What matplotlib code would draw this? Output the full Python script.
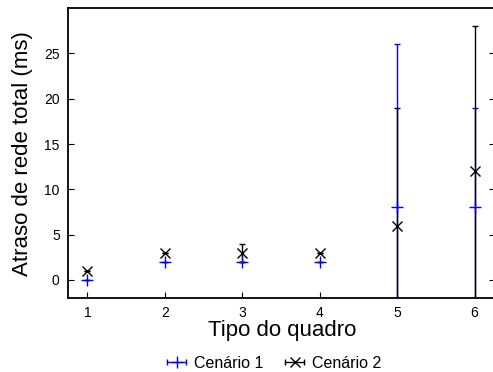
import matplotlib
matplotlib.use("Agg")
import matplotlib.pyplot as plt
from matplotlib.lines import Line2D
from matplotlib.legend_handler import HandlerLine2D

plt.rcParams['font.family'] = ['Liberation Sans', 'DejaVu Sans']

tipos = [1, 2, 3, 4, 5, 6]
cen1 = [0, 2, 2, 2, 8, 8]
cen1_err = [0, 0, 0, 0, 18, 11]
cen2 = [1, 3, 3, 3, 6, 12]
cen2_err = [0, 0, 1, 0, 13, 16]

fig = plt.figure(figsize=(4.93, 3.72), dpi=100)
ax = fig.add_axes([0.138, 0.199, 0.867, 0.779])

ax.errorbar(tipos, cen1, yerr=cen1_err, fmt='+', color='#0000ff', ms=8, mew=1,
            elinewidth=1, capsize=2, capthick=1)
ax.errorbar(tipos, cen2, yerr=cen2_err, fmt='x', color='black', ms=6.5, mew=1,
            elinewidth=1, capsize=2, capthick=1)

ax.set_xlim(0.75, 6.27)
ax.set_ylim(-2, 30)
ax.set_xticks(tipos)
ax.set_yticks([0, 5, 10, 15, 20, 25])
ax.tick_params(direction='in', top=False, right=True, length=4, labelsize=10, pad=6)
for s in ax.spines.values():
    s.set_linewidth(1.3)

ax.set_xlabel('Tipo do quadro', fontsize=16, labelpad=0)
ax.set_ylabel('Atraso de rede total (ms)', fontsize=16, labelpad=8)

# legend symbols: horizontal bar with caps plus the point marker
cap1 = Line2D([], [], color='#0000ff', marker='|', ms=5, lw=1)
pt1 = Line2D([], [], color='#0000ff', marker='+', ms=8, ls='none')
cap2 = Line2D([], [], color='black', marker='|', ms=5, lw=1)
pt2 = Line2D([], [], color='black', marker='x', ms=6.5, ls='none')
hmap = {cap1: HandlerLine2D(numpoints=2), cap2: HandlerLine2D(numpoints=2),
        pt1: HandlerLine2D(numpoints=1), pt2: HandlerLine2D(numpoints=1)}
fig.legend([(cap1, pt1), (cap2, pt2)], ['Cenário 1', 'Cenário 2'],
           handler_map=hmap, loc='lower center',
           bbox_to_anchor=(0.551, -0.036), ncol=2, frameon=False, fontsize=11.5,
           handlelength=1.8, columnspacing=1.1, handletextpad=0.15)

fig.savefig('out.png', dpi=100)
